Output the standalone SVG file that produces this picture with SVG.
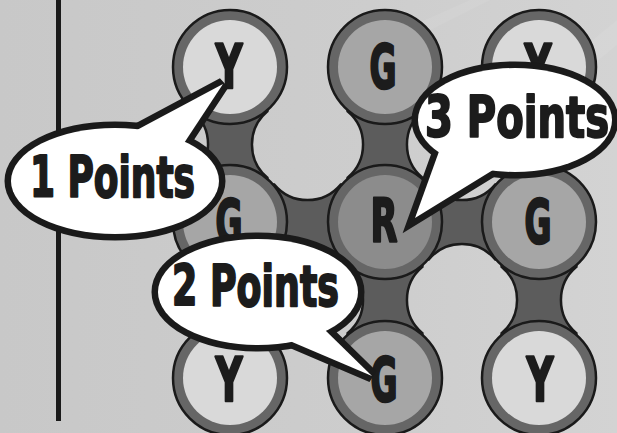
<svg xmlns="http://www.w3.org/2000/svg" width="617" height="433" viewBox="0 0 617 433">
  <defs>
    <linearGradient id="bg" x1="0" y1="0" x2="1" y2="0">
      <stop offset="0" stop-color="#c8c8c8"/>
      <stop offset="0.6" stop-color="#cdcdcd"/>
      <stop offset="1" stop-color="#d3d3d3"/>
    </linearGradient>
    <!-- concave connector between two circles 155 apart, drawn vertically about the origin -->
    <path id="neck" d="M -37.4,-33.2 L -37.4,-50 L 37.4,-50 L 37.4,-33.2 A 43.4 43.4 0 0 0 37.4,33.2 L 37.4,50 L -37.4,50 L -37.4,33.2 A 43.4 43.4 0 0 0 -37.4,-33.2 Z"/>
  </defs>
  <style>
    .neck { fill: #5c5c5c; stroke: #1a1a1a; stroke-width: 2.5; }
    .ring { fill: #666666; stroke: #1a1a1a; stroke-width: 2.5; }
    .y { fill: #d9d9d9; }
    .g { fill: #a6a6a6; }
    .r { fill: #8c8c8c; }
    .letter { font-family: 'Liberation Sans Narrow', 'DejaVu Sans Condensed', 'Liberation Sans', sans-serif; font-weight: bold; font-size: 60px; fill: #1c1c1c; stroke: #1c1c1c; stroke-width: 2.4; stroke-linejoin: round; text-anchor: middle; }
    .label { font-family: 'Liberation Sans Narrow', 'DejaVu Sans Condensed', 'Liberation Sans', sans-serif; font-weight: bold; font-size: 57px; fill: #1c1c1c; stroke: #1c1c1c; stroke-width: 2; stroke-linejoin: round; }
    .bubble-edge { fill: #1a1a1a; stroke: #1a1a1a; stroke-width: 13; stroke-linejoin: miter; }
    .bubble-fill { fill: #ffffff; }
    .streak { fill: #ffffff; opacity: 0.07; }
  </style>

  <!-- backdrop -->
  <rect x="0" y="0" width="617" height="433" fill="url(#bg)"/>
  <polygon class="streak" points="470,140 617,20 617,45 490,150"/>
  <polygon class="streak" points="520,200 617,110 617,125 530,210"/>
  <polygon class="streak" points="380,40 470,0 490,0 390,50"/>
  <rect x="56" y="0" width="5" height="421" fill="#1a1a1a"/>

  <!-- links between pieces -->
  <g id="connectors">
    <use href="#neck" class="neck" transform="translate(230,144.5)"/>
    <use href="#neck" class="neck" transform="translate(385,144.5)"/>
    <use href="#neck" class="neck" transform="translate(307.5,222) rotate(90)"/>
    <use href="#neck" class="neck" transform="translate(462,222) rotate(90)"/>
    <use href="#neck" class="neck" transform="translate(385,300)"/>
    <use href="#neck" class="neck" transform="translate(539,300)"/>
  </g>

  <!-- pieces -->
  <g id="node-y1">
    <circle class="ring" cx="230" cy="67" r="57"/>
    <circle class="y" cx="230" cy="67" r="47"/>
    <text class="letter" x="229" y="88" textLength="27" lengthAdjust="spacingAndGlyphs">Y</text>
  </g>
  <g id="node-g1">
    <circle class="ring" cx="385" cy="67" r="57"/>
    <circle class="g" cx="385" cy="67" r="47"/>
    <text class="letter" x="383" y="88" textLength="27" lengthAdjust="spacingAndGlyphs">G</text>
  </g>
  <g id="node-y2">
    <circle class="ring" cx="539" cy="67" r="57"/>
    <circle class="y" cx="539" cy="67" r="47"/>
    <text class="letter" x="538" y="88" textLength="27" lengthAdjust="spacingAndGlyphs">Y</text>
  </g>
  <g id="node-g2">
    <circle class="ring" cx="230" cy="222" r="57"/>
    <circle class="g" cx="230" cy="222" r="47"/>
    <text class="letter" x="229" y="243" textLength="27" lengthAdjust="spacingAndGlyphs">G</text>
  </g>
  <g id="node-r">
    <circle class="ring" cx="385" cy="222" r="57"/>
    <circle class="r" cx="385" cy="222" r="47"/>
    <text class="letter" x="384" y="242" textLength="27" lengthAdjust="spacingAndGlyphs">R</text>
  </g>
  <g id="node-g3">
    <circle class="ring" cx="539" cy="222" r="57"/>
    <circle class="g" cx="539" cy="222" r="47"/>
    <text class="letter" x="538" y="243" textLength="27" lengthAdjust="spacingAndGlyphs">G</text>
  </g>
  <g id="node-y3">
    <circle class="ring" cx="230" cy="378" r="57"/>
    <circle class="y" cx="230" cy="378" r="47"/>
    <text class="letter" x="229" y="401" textLength="27" lengthAdjust="spacingAndGlyphs">Y</text>
  </g>
  <g id="node-g4">
    <circle class="ring" cx="385" cy="378" r="57"/>
    <circle class="g" cx="385" cy="378" r="47"/>
    <text class="letter" x="384" y="401" textLength="27" lengthAdjust="spacingAndGlyphs">G</text>
  </g>
  <g id="node-y4">
    <circle class="ring" cx="539" cy="378" r="57"/>
    <circle class="y" cx="539" cy="378" r="47"/>
    <text class="letter" x="540" y="401" textLength="27" lengthAdjust="spacingAndGlyphs">Y</text>
  </g>

  <!-- callouts -->
  <g id="callout-1">
    <g class="bubble-edge">
      <ellipse cx="115" cy="181" rx="104" ry="53"/>
      <polygon points="120,139 223,84 177.5,153"/>
    </g>
    <g class="bubble-fill">
      <ellipse cx="115" cy="181" rx="104" ry="53"/>
      <polygon points="120,139 223,84 177.5,153"/>
    </g>
    <text class="label" x="30" y="197" textLength="165" lengthAdjust="spacingAndGlyphs">1 Points</text>
  </g>
  <g id="callout-2">
    <g class="bubble-edge">
      <ellipse cx="258" cy="292" rx="100" ry="53"/>
      <polygon points="301.5,307 372,376 278,336"/>
    </g>
    <g class="bubble-fill">
      <ellipse cx="258" cy="292" rx="100" ry="53"/>
      <polygon points="301.5,307 372,376 278,336"/>
    </g>
    <text class="label" x="172" y="306" textLength="167" lengthAdjust="spacingAndGlyphs">2 Points</text>
  </g>
  <g id="callout-3">
    <g class="bubble-edge">
      <ellipse cx="515" cy="120" rx="97" ry="52"/>
      <polygon points="448,126.5 415,218 493,170"/>
    </g>
    <g class="bubble-fill">
      <ellipse cx="515" cy="120" rx="97" ry="52"/>
      <polygon points="448,126.5 415,218 493,170"/>
    </g>
    <text class="label" x="425" y="137" textLength="184" lengthAdjust="spacingAndGlyphs">3 Points</text>
  </g>
</svg>
